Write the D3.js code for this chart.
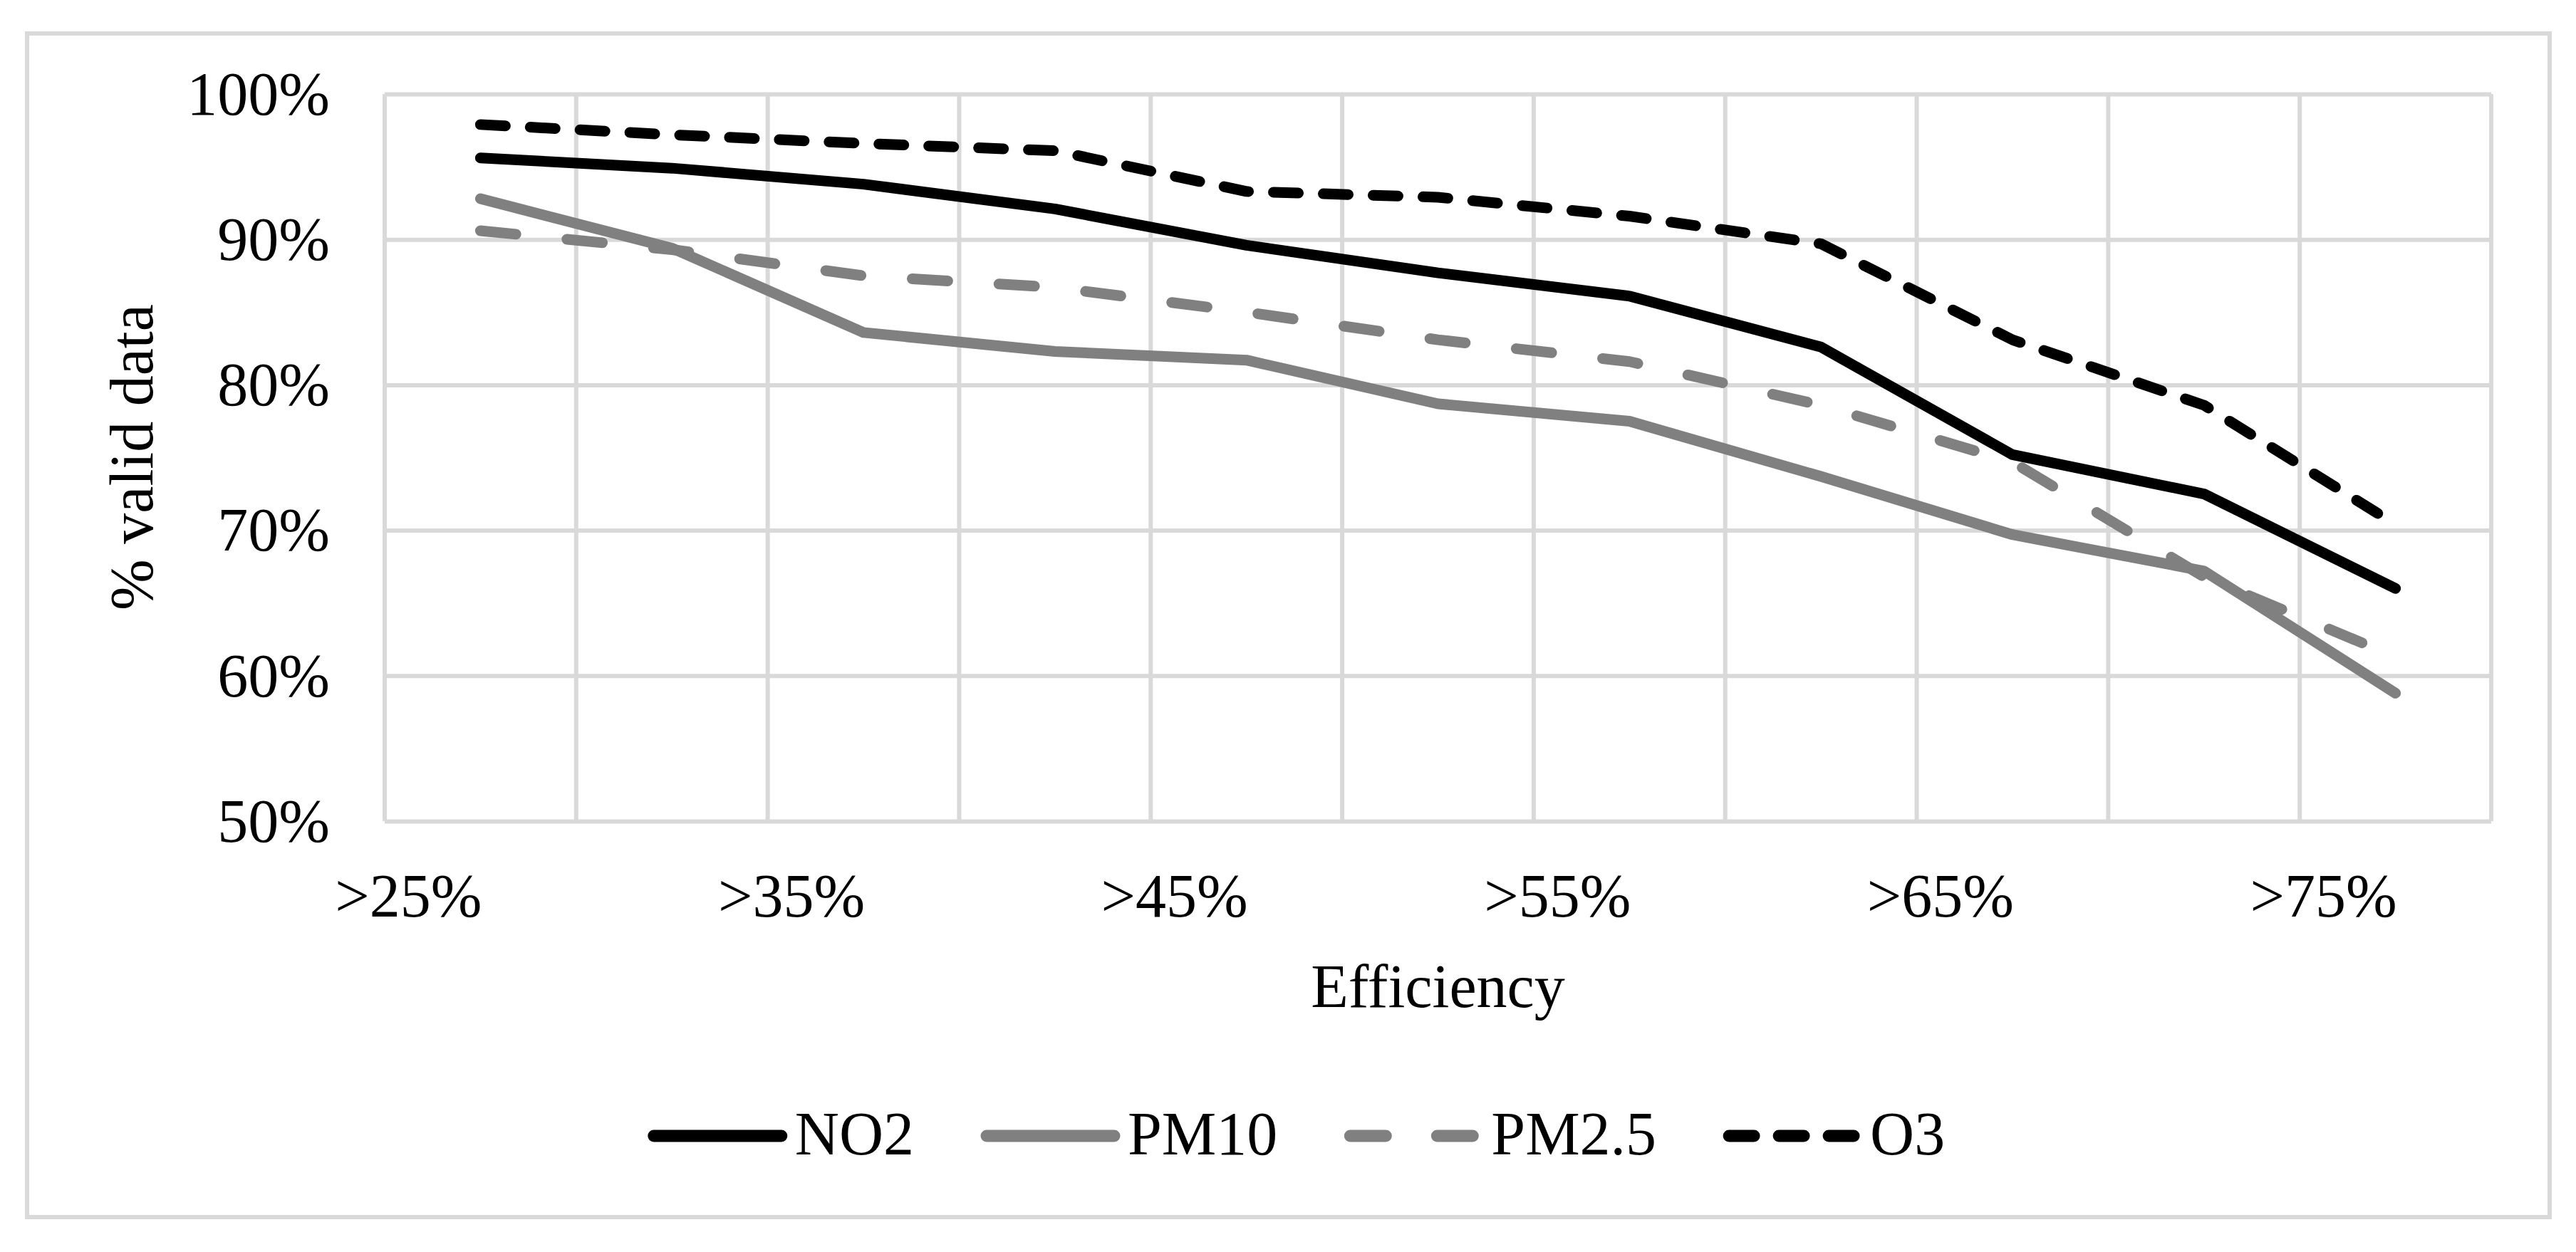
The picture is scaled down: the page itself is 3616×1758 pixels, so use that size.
<!DOCTYPE html>
<html>
<head>
<meta charset="utf-8">
<script src="https://cdn.jsdelivr.net/npm/d3@7"></script>
<style>
    body { margin: 0; background: #fff; }
    text { font-family: "Liberation Serif", "Times New Roman", serif; fill: #000; }
</style>
</head>
<body>
<svg id="chart" width="3616" height="1758"></svg>
<script>
// data (percent valid data per efficiency threshold)
var categories = ['>25%', '>30%', '>35%', '>40%', '>45%', '>50%', '>55%', '>60%', '>65%', '>70%', '>75%'];
var no2 = [95.6, 94.9, 93.8, 92.1, 89.6, 87.7, 86.1, 82.6, 75.2, 72.5, 66.0];
var pm10 = [92.8, 89.4, 83.6, 82.3, 81.7, 78.7, 77.5, 73.7, 69.7, 67.2, 58.8];
var pm25 = [90.6, 89.3, 87.5, 86.7, 85.0, 83.1, 81.6, 78.6, 74.7, 66.8, 61.3];
var o3 = [97.9, 97.2, 96.6, 96.1, 93.3, 92.9, 91.6, 89.7, 83.1, 78.6, 70.4];
var yTicks = [50, 60, 70, 80, 90, 100];

var series = [
    { name: 'NO2', values: no2, color: '#000000', dash: null },
    { name: 'PM10', values: pm10, color: '#808080', dash: null },
    { name: 'PM2.5', values: pm25, color: '#808080', dash: '50,72' },
    { name: 'O3', values: o3, color: '#000000', dash: '35,35' }
];

var params = {
    left: 540, right: 3497, top: 132, bottom: 1153,
    grid: '#d9d9d9',
    gridWidth: 6,
    lineWidth: 15,
    fontSize: 86
};

var svg = d3.select('#chart');

// outer chart border
svg.append('rect')
    .attr('x', 38).attr('y', 47)
    .attr('width', 3579 - 38).attr('height', 1709 - 47)
    .attr('fill', '#fff')
    .attr('stroke', params.grid)
    .attr('stroke-width', params.gridWidth);

var x = d3.scaleBand()
    .domain(categories)
    .range([params.left, params.right])
    .paddingInner(0).paddingOuter(0);

var y = d3.scaleLinear()
    .domain([50, 100])
    .range([params.bottom, params.top]);

var cx = function(c) { return x(c) + x.bandwidth() / 2; };

// horizontal gridlines with percent labels
var yAxis = d3.axisLeft(y)
    .tickValues(yTicks)
    .tickSize(-(params.right - params.left))
    .tickPadding(params.left - 463)
    .tickFormat(function(d) { return d + '%'; });

var gy = svg.append('g')
    .attr('transform', 'translate(' + params.left + ',0)')
    .call(yAxis);
gy.select('.domain').remove();
gy.selectAll('.tick line')
    .attr('stroke', params.grid)
    .attr('stroke-width', params.gridWidth);
gy.selectAll('.tick text')
    .attr('font-size', params.fontSize)
    .attr('dy', '0.33em')
    .style('font-family', '"Liberation Serif", serif')
    .attr('fill', '#000');

// vertical gridlines on category boundaries
var bounds = categories.map(function(c) { return x(c); }).concat([params.right]);
svg.append('g').selectAll('line.vgrid')
    .data(bounds)
    .enter().append('line')
    .attr('class', 'vgrid')
    .attr('x1', function(d) { return d; })
    .attr('x2', function(d) { return d; })
    .attr('y1', params.top)
    .attr('y2', params.bottom)
    .attr('stroke', params.grid)
    .attr('stroke-width', params.gridWidth);

// category labels, every second one like excel does
var xLabels = categories.filter(function(c, i) { return i % 2 == 0; });
svg.append('g').selectAll('text.xlab')
    .data(xLabels)
    .enter().append('text')
    .attr('class', 'xlab')
    .attr('x', function(d) { return cx(d) + 2; })
    .attr('y', 1287)
    .attr('text-anchor', 'end')
    .attr('font-size', params.fontSize)
    .text(function(d) { return d; });

// axis titles
svg.append('text')
    .attr('transform', 'translate(214,642) rotate(-90)')
    .attr('text-anchor', 'middle')
    .attr('font-size', params.fontSize)
    .text('% valid data');

svg.append('text')
    .attr('x', (params.left + params.right) / 2)
    .attr('y', 1414)
    .attr('text-anchor', 'middle')
    .attr('font-size', params.fontSize)
    .text('Efficiency');

// the lines
var line = d3.line()
    .x(function(d, i) { return cx(categories[i]); })
    .y(function(d) { return y(d); });

svg.append('g').selectAll('path.series')
    .data(series)
    .enter().append('path')
    .attr('class', 'series')
    .attr('d', function(s) { return line(s.values); })
    .attr('fill', 'none')
    .attr('stroke', function(s) { return s.color; })
    .attr('stroke-width', params.lineWidth)
    .attr('stroke-linecap', 'round')
    .attr('stroke-linejoin', 'round')
    .attr('stroke-dasharray', function(s) { return s.dash; });

// legend, centred under the chart
var legend = svg.append('g').attr('class', 'legend');
var items = legend.selectAll('g.item')
    .data(series)
    .enter().append('g')
    .attr('class', 'item');

items.append('line')
    .attr('x1', 8).attr('x2', 187)
    .attr('y1', 0).attr('y2', 0)
    .attr('stroke', function(s) { return s.color; })
    .attr('stroke-width', 17)
    .attr('stroke-linecap', 'round')
    .attr('stroke-dasharray', function(s) { return s.dash; });

items.append('text')
    .attr('x', 206)
    .attr('y', 26)
    .attr('font-size', params.fontSize)
    .text(function(s) { return s.name; });

var pos = 0;
var widths = [];
items.each(function(d) {
    var w = 206 + this.querySelector('text').getComputedTextLength();
    widths.push(w);
});
var total = d3.sum(widths) + 94 * (widths.length - 1);
var start = 1820 - total / 2;
items.attr('transform', function(d, i) {
    var t = 'translate(' + (start + pos) + ',1595)';
    pos += widths[i] + 94;
    return t;
});
</script>
</body>
</html>
